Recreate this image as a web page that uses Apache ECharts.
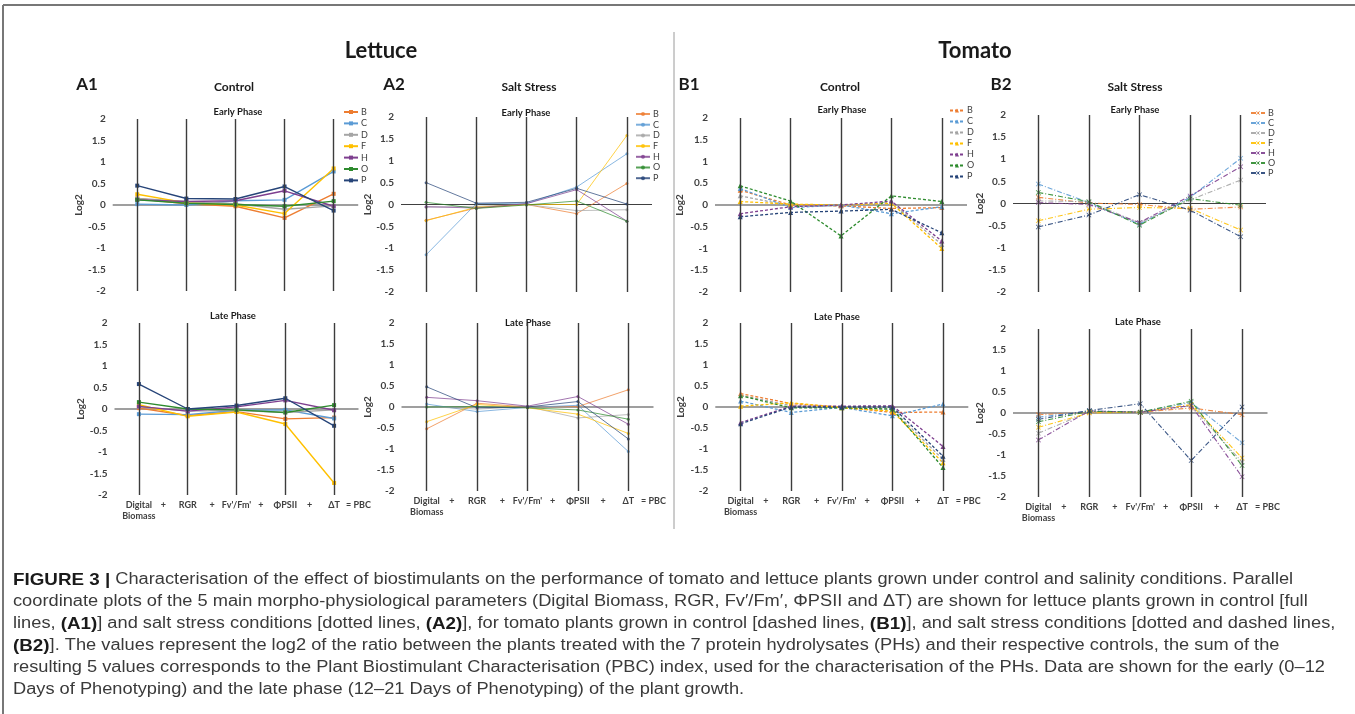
<!DOCTYPE html>
<html><head><meta charset="utf-8">
<script src="https://cdn.jsdelivr.net/npm/echarts@6/dist/echarts.min.js"></script>
<style>html,body{margin:0;padding:0;background:#fff}#c{width:1355px;height:714px}</style>
</head><body><div id="c"></div>
<script>
// ---------- DATA ----------
const params = ['Digital\nBiomass', 'RGR', "Fv'/Fm'", 'ΦPSII', 'ΔT'];
const tickLabels = ['Digital\nBiomass', '+', 'RGR', '+', "Fv'/Fm'", '+', 'ΦPSII', '+', 'ΔT', '= PBC'];
const treatments = ['B', 'C', 'D', 'F', 'H', 'O', 'P'];

// rows follow `treatments`, columns follow `params` (log2 ratio)
const lettuceControlEarly = [
  [0.15, 0.03, -0.03, -0.30, 0.26],
  [0.02, 0.00, 0.10, 0.12, 0.78],
  [0.15, 0.08, 0.03, -0.10, -0.02],
  [0.25, 0.05, 0.00, -0.20, 0.85],
  [0.12, 0.08, 0.10, 0.33, -0.03],
  [0.12, 0.04, 0.01, -0.03, 0.09],
  [0.45, 0.15, 0.14, 0.43, -0.13]
];
const lettuceControlLate = [
  [0.02, -0.15, -0.06, -0.23, -0.20],
  [-0.12, -0.13, -0.03, -0.02, -0.22],
  [0.05, -0.05, -0.03, -0.08, -0.02],
  [0.10, -0.17, -0.07, -0.35, -1.72],
  [0.06, -0.05, 0.05, 0.20, -0.03],
  [0.16, 0.00, -0.02, -0.08, 0.09],
  [0.58, 0.00, 0.08, 0.25, -0.39]
];
const lettuceSaltEarly = [
  [-0.36, -0.08, 0.00, -0.21, 0.48],
  [-1.15, 0.02, 0.02, 0.40, 1.16],
  [-0.06, -0.04, 0.00, -0.14, -0.12],
  [-0.37, -0.06, 0.00, 0.00, 1.58],
  [-0.05, -0.08, 0.02, 0.34, -0.38],
  [0.05, -0.09, -0.01, 0.08, -0.38],
  [0.50, 0.03, 0.05, 0.37, 0.01]
];
const lettuceSaltLate = [
  [-0.52, 0.09, 0.00, 0.01, 0.41],
  [0.07, -0.11, -0.01, 0.04, -1.06],
  [0.01, -0.05, 0.01, -0.26, -0.18],
  [-0.35, 0.06, -0.02, -0.17, -0.63],
  [0.23, 0.15, 0.02, 0.25, -0.41],
  [0.00, 0.01, -0.02, -0.07, -0.29],
  [0.48, -0.02, 0.00, 0.13, -0.76]
];
const tomatoControlEarly = [
  [0.34, 0.00, -0.02, -0.08, -0.06],
  [0.38, -0.06, 0.00, -0.20, -0.04],
  [0.21, -0.02, -0.02, 0.06, -0.91],
  [0.08, 0.02, 0.00, 0.04, -1.00],
  [-0.20, -0.04, 0.00, 0.09, -0.83],
  [0.44, 0.09, -0.71, 0.21, 0.08],
  [-0.27, -0.17, -0.14, -0.10, -0.64]
];
const tomatoControlLate = [
  [0.32, 0.08, 0.00, -0.13, -0.12],
  [0.14, -0.13, -0.01, -0.21, 0.07],
  [0.28, 0.03, 0.00, -0.06, -1.25],
  [0.02, 0.10, -0.02, -0.10, -1.33],
  [-0.37, 0.02, 0.02, 0.03, -0.94],
  [0.27, -0.02, -0.02, -0.05, -1.44],
  [-0.40, 0.00, 0.00, 0.00, -1.17]
];
const tomatoSaltEarly = [
  [0.14, 0.01, -0.02, -0.13, -0.08],
  [0.44, 0.02, -0.47, 0.14, 1.02],
  [0.06, 0.04, -0.44, 0.08, 0.53],
  [-0.39, -0.13, -0.09, -0.11, -0.60],
  [0.02, -0.02, -0.43, 0.17, 0.83],
  [0.25, 0.04, -0.49, 0.11, -0.04],
  [-0.53, -0.26, 0.20, -0.15, -0.75]
];
const tomatoSaltLate = [
  [-0.04, 0.02, 0.02, 0.12, -0.04],
  [-0.10, 0.05, 0.02, 0.25, -0.71],
  [-0.48, 0.03, 0.02, 0.17, -1.17],
  [-0.34, 0.00, 0.02, 0.20, -1.07],
  [-0.64, 0.05, 0.02, 0.18, -1.52],
  [-0.21, 0.04, 0.02, 0.28, -1.25],
  [-0.15, 0.06, 0.22, -1.13, 0.14]
];

// ---------- STYLE / LAYOUT ----------
const colors = ['#ED7D31', '#5B9BD5', '#A5A5A5', '#FFC000', '#7E3F8F', '#2E8B2E', '#264478'];
const FONT = 'Lato';
const TXT = '#404040';
const crossPath = 'path://M0,1L1,0L5,4L9,0L10,1L6,5L10,9L9,10L5,6L1,10L0,9L4,5Z';

const styles = {
  A1: {type: 'solid', width: 1.4, symbol: 'rect', size: 4, opacity: 1},
  A2: {type: 'solid', width: 0.9, symbol: 'circle', size: 3, opacity: 0.8},
  B1: {type: [3, 2], width: 1.3, symbol: 'triangle', size: 5, opacity: 1},
  B2: {type: [5, 2, 1, 2], width: 1.1, symbol: crossPath, size: 5, opacity: 0.9}
};

const panels = [
  {key: 'A1', data: lettuceControlEarly, late: false, left: 112.7, top: 119, width: 245.5, height: 172, nameGap: 27, legend: {left: 343, top: 107.5, gap: 2.4}},
  {key: 'A1', data: lettuceControlLate, late: true, left: 114.5, top: 323, width: 244, height: 172, nameGap: 27},
  {key: 'A2', data: lettuceSaltEarly, late: false, left: 401, top: 117, width: 251, height: 175, nameGap: 27, legend: {left: 635, top: 109.5, gap: 1.7}},
  {key: 'A2', data: lettuceSaltLate, late: true, left: 401.5, top: 323, width: 252, height: 168, nameGap: 27},
  {key: 'B1', data: tomatoControlEarly, late: false, left: 715, top: 118, width: 252, height: 174, nameGap: 30, legend: {left: 949, top: 106, gap: 2}},
  {key: 'B1', data: tomatoControlLate, late: true, left: 715.3, top: 323, width: 253, height: 168, nameGap: 30},
  {key: 'B2', data: tomatoSaltEarly, late: false, left: 1013, top: 115, width: 253, height: 177, nameGap: 27, legend: {left: 1250, top: 108.5, gap: 1}},
  {key: 'B2', data: tomatoSaltLate, late: true, left: 1013, top: 329, width: 254.5, height: 168, nameGap: 27}
];
const suffix = {A1: '', A2: '\u200b', B1: '\u200b\u200b', B2: '\u200b\u200b\u200b'};

const grid = [], xAxis = [], yAxis = [], series = [], legend = [];
panels.forEach((p, idx) => {
  grid.push({left: p.left, top: p.top, width: p.width, height: p.height});
  xAxis.push({
    type: 'value', gridIndex: idx, min: -0.5, max: 4.5, interval: 0.5,
    axisLine: {show: false, onZero: false}, axisTick: {show: false}, splitLine: {show: false},
    axisLabel: {
      show: p.late, margin: 5, showMinLabel: true, showMaxLabel: true,
      fontFamily: FONT, fontWeight: 'bold', fontSize: 9, color: TXT, lineHeight: 11,
      formatter: v => { const k = Math.round(v * 2); return k >= 0 && k < tickLabels.length ? tickLabels[k] : ''; }
    }
  });
  yAxis.push({
    type: 'value', gridIndex: idx, min: -2, max: 2, interval: 0.5,
    axisLine: {show: false}, axisTick: {show: false}, splitLine: {show: false},
    axisLabel: {fontFamily: FONT, fontWeight: 'bold', fontSize: 10, color: TXT, margin: 7},
    name: 'Log2', nameLocation: 'middle', nameRotate: 90, nameGap: p.nameGap,
    nameTextStyle: {fontFamily: FONT, fontWeight: 'bold', fontSize: 10, color: TXT}
  });
  // axis frame: zero line + vertical parallel axes
  series.push({
    type: 'line', xAxisIndex: idx, yAxisIndex: idx, silent: true, z: 1,
    data: [[-0.5, 0], [4.5, 0]], symbol: 'none',
    lineStyle: {color: '#404040', width: 1.1},
    markLine: {
      silent: true, symbol: 'none', label: {show: false},
      lineStyle: {color: '#3c3c3c', width: 1.4, type: 'solid'},
      data: params.map((_, i) => ({xAxis: i}))
    }
  });
  const st = styles[p.key];
  treatments.forEach((t, k) => {
    series.push({
      type: 'line', name: t + suffix[p.key], xAxisIndex: idx, yAxisIndex: idx, z: 3,
      data: p.data[k].map((v, i) => [i, v]),
      symbol: st.symbol, symbolSize: st.size, showSymbol: true,
      itemStyle: {color: colors[k], opacity: st.opacity},
      lineStyle: {color: colors[k], width: st.width, type: st.type, opacity: st.opacity},
      emphasis: {disabled: true}, animation: false
    });
  });
  if (p.legend) {
    legend.push({
      orient: 'vertical', left: p.legend.left, top: p.legend.top, padding: 0,
      itemWidth: 14, itemHeight: 5, itemGap: p.legend.gap, selectedMode: false,
      data: treatments.map(t => t + suffix[p.key]),
      formatter: n => n.replace(/\u200b/g, ''),
      textStyle: {fontFamily: FONT, fontSize: 9, color: TXT, lineHeight: 9, padding: [0, 0, 0, -2]}
    });
  }
});

// ---------- TEXT ----------
const texts = [
  ['Lettuce', 381, 51, 22], ['Tomato', 975, 51, 22],
  ['A1', 87, 85, 17], ['Control', 234, 87, 12], ['A2', 394, 85, 17], ['Salt Stress', 529, 87, 12],
  ['B1', 689, 85, 17], ['Control', 840, 87, 12], ['B2', 1001, 85, 17], ['Salt Stress', 1135, 87, 12],
  ['Early Phase', 238, 112, 9.5], ['Late Phase', 233, 316, 9.5],
  ['Early Phase', 526, 113, 9.5], ['Late Phase', 528, 323, 9.5],
  ['Early Phase', 842, 110, 9.5], ['Late Phase', 837, 317, 9.5],
  ['Early Phase', 1135, 110, 9.5], ['Late Phase', 1138, 322, 9.5]
];
const captionLines = [
  '{b|FIGURE 3 |} Characterisation of the effect of biostimulants on the performance of tomato and lettuce plants grown under control and salinity conditions. Parallel',
  'coordinate plots of the 5 main morpho-physiological parameters (Digital Biomass, RGR, Fv\u2032/Fm\u2032, ΦPSII and ΔT) are shown for lettuce plants grown in control [full',
  'lines, {b|(A1)}] and salt stress conditions [dotted lines, {b|(A2)}], for tomato plants grown in control [dashed lines, {b|(B1)}], and salt stress conditions [dotted and dashed lines,',
  '{b|(B2)}]. The values represent the log2 of the ratio between the plants treated with the 7 protein hydrolysates (PHs) and their respective controls, the sum of the',
  'resulting 5 values corresponds to the Plant Biostimulant Characterisation (PBC) index, used for the characterisation of the PHs. Data are shown for the early (0\u201312',
  'Days of Phenotyping) and the late phase (12\u201321 Days of Phenotyping) of the plant growth.'
];
const graphic = [];
texts.forEach(([s, x, y, fs]) => graphic.push({
  type: 'text', x: x, y: y, silent: true,
  style: {text: s, fontFamily: FONT, fontWeight: 'bold', fontSize: fs, fill: '#1a1a1a', align: 'center', verticalAlign: 'middle'}
}));
captionLines.forEach((s, i) => graphic.push({
  type: 'text', x: 13, y: 580 + i * 22, scaleX: 1.14, silent: true,
  style: {
    text: s, fontFamily: 'Liberation Sans', fontSize: 16, fill: '#3a3a3a', verticalAlign: 'middle',
    rich: {b: {fontFamily: 'Liberation Sans', fontSize: 16.5, fontWeight: 'bold', fill: '#1a1a1a'}}
  }
}));
// frame + separator
graphic.push({type: 'line', silent: true, shape: {x1: 3, y1: 5, x2: 1355, y2: 5}, style: {stroke: '#777', lineWidth: 2}});
graphic.push({type: 'line', silent: true, shape: {x1: 3, y1: 5, x2: 3, y2: 714}, style: {stroke: '#777', lineWidth: 2}});
graphic.push({type: 'line', silent: true, shape: {x1: 674, y1: 32, x2: 674, y2: 529}, style: {stroke: '#9a9a9a', lineWidth: 1}});

const chart = echarts.init(document.getElementById('c'), null, {renderer: 'canvas'});
chart.setOption({
  animation: false, backgroundColor: '#fff',
  grid, xAxis, yAxis, series, legend, graphic
});
</script></body></html>
